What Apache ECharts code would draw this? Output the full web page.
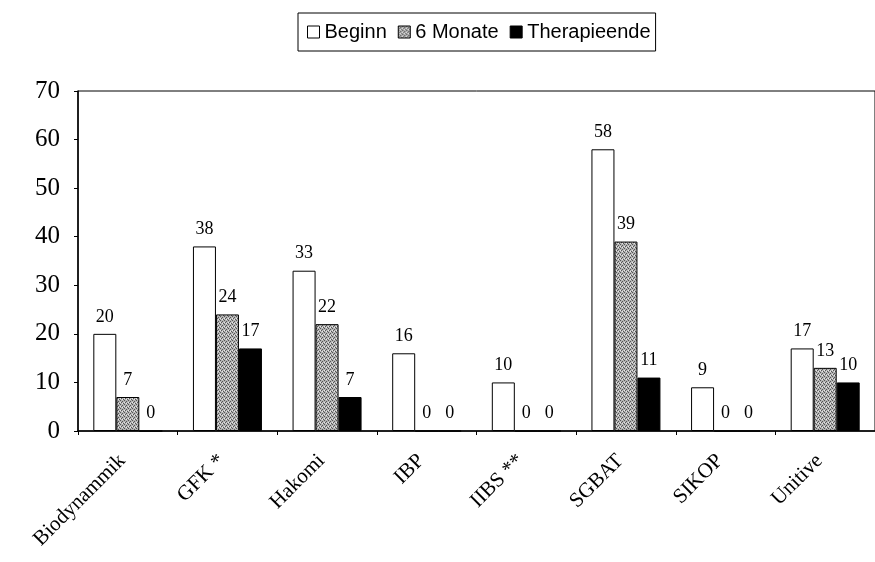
<!DOCTYPE html>
<html>
<head>
<meta charset="utf-8">
<script src="https://cdn.jsdelivr.net/npm/echarts@6/dist/echarts.min.js"></script>
<style>
  html, body { margin: 0; padding: 0; background: #fff; }
  #chart { width: 875px; height: 562px; }
</style>
</head>
<body>
<div id="chart"></div>
<script>
// Kategorien und Werte
const categories = ["Biodynammik", "GFK *", "Hakomi", "IBP", "IIBS **", "SGBAT", "SIKOP", "Unitive"];
const beginn = [20, 38, 33, 16, 10, 58, 9, 17];
const sechsMonate = [7, 24, 22, 0, 0, 39, 0, 13];
const therapieende = [0, 17, 7, 0, 0, 11, 0, 10];
const seriesNames = ["Beginn", "6 Monate", "Therapieende"];

// gepunktetes Grau fuer die mittlere Reihe
function makeStipple() {
  const c = document.createElement("canvas");
  c.width = 4;
  c.height = 4;
  const ctx = c.getContext("2d");
  ctx.fillStyle = "#b4b4b4";
  ctx.fillRect(0, 0, 4, 4);
  ctx.fillStyle = "#555";
  [[0, 0], [2, 1], [1, 2], [3, 3]].forEach(p => ctx.fillRect(p[0], p[1], 1, 1));
  ctx.fillStyle = "#e8e8e8";
  [[2, 3], [0, 2]].forEach(p => ctx.fillRect(p[0], p[1], 1, 1));
  return c;
}

const chart = echarts.init(document.getElementById("chart"));
const labelStyle = {
  show: true,
  position: "top",
  distance: 8,
  color: "#000",
  fontFamily: "Liberation Serif",
  fontSize: 18
};
function barSeries(name, data, color) {
  return {
    name: name,
    type: "bar",
    data: data,
    barWidth: 23,
    barGap: "0%",
    itemStyle: { color: color, borderColor: "#000", borderWidth: 1 },
    label: labelStyle,
    animation: false
  };
}

chart.setOption({
  animation: false,
  legend: {
    data: seriesNames,
    icon: "rect",
    top: 13,
    left: 298,
    padding: [9, 5, 9, 9],
    itemWidth: 12,
    itemHeight: 12,
    itemGap: 11,
    borderColor: "#000",
    borderWidth: 1,
    itemStyle: { borderColor: "#000", borderWidth: 1 },
    textStyle: { fontFamily: "Liberation Sans", fontSize: 20, color: "#000" }
  },
  grid: {
    left: 78,
    top: 91,
    right: -12,
    bottom: 131,
    show: true,
    borderColor: "#000",
    borderWidth: 1
  },
  xAxis: {
    type: "category",
    data: categories,
    axisLine: { lineStyle: { color: "#000", width: 1.5 } },
    axisTick: { show: true, length: 4, lineStyle: { color: "#000" } },
    axisLabel: {
      rotate: 45,
      color: "#000",
      fontFamily: "Liberation Serif",
      fontSize: 21,
      margin: 21,
      padding: [0, 8, 0, 0]
    }
  },
  yAxis: {
    type: "value",
    min: 0,
    max: 70,
    interval: 10,
    splitLine: { show: false },
    axisLine: { show: true, lineStyle: { color: "#000", width: 1.5 } },
    axisTick: { show: true, length: 4, lineStyle: { color: "#000" } },
    axisLabel: {
      color: "#000",
      fontFamily: "Liberation Serif",
      fontSize: 25,
      margin: 18
    }
  },
  series: [
    barSeries(seriesNames[0], beginn, "#fff"),
    barSeries(seriesNames[1], sechsMonate, { image: makeStipple(), repeat: "repeat" }),
    barSeries(seriesNames[2], therapieende, "#000")
  ]
});
</script>
</body>
</html>
